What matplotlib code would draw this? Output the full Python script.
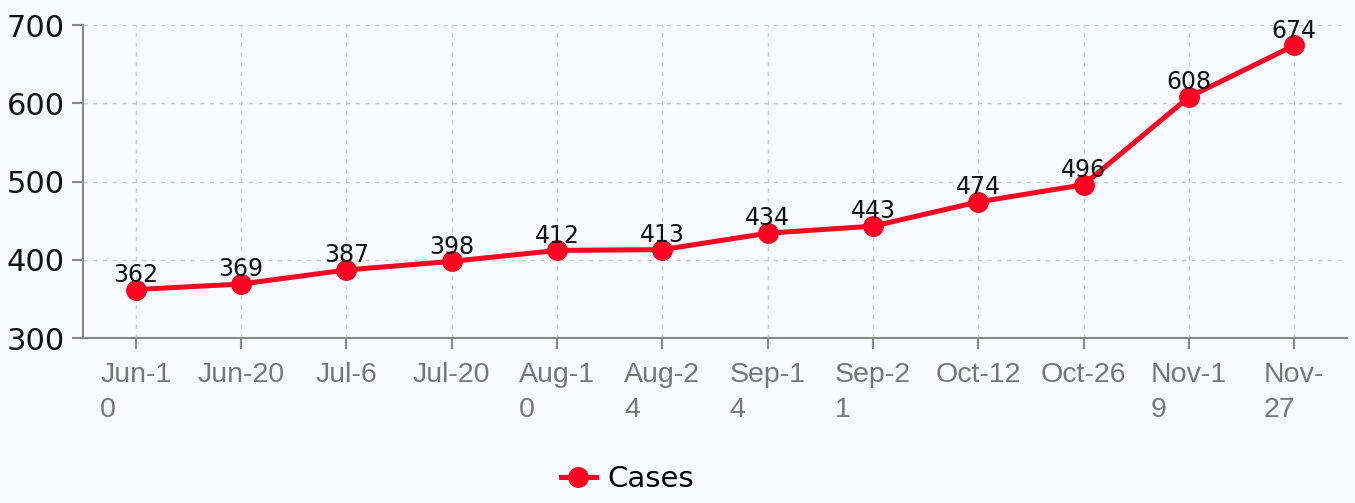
import matplotlib
matplotlib.use('Agg')
import matplotlib.pyplot as plt

dates = ['Jun-1\n0', 'Jun-20', 'Jul-6', 'Jul-20', 'Aug-1\n0', 'Aug-2\n4',
         'Sep-1\n4', 'Sep-2\n1', 'Oct-12', 'Oct-26', 'Nov-1\n9', 'Nov-\n27']
cases = [362, 369, 387, 398, 412, 413, 434, 443, 474, 496, 608, 674]

bg = '#f8faff'
red = '#ff0022'

fig = plt.figure(figsize=(13.55, 5.03), dpi=100, facecolor=bg)
ax = fig.add_axes([0.0613, 0.328, 0.9327, 0.622])
ax.set_facecolor(bg)

x = list(range(len(cases)))
ax.plot(x, cases, '-o', color=red, lw=3.6, ms=14, label='Cases', zorder=3)
for xi, v in zip(x, cases):
    ax.annotate(str(v), (xi, v), xytext=(0, 2), textcoords='offset points',
                ha='center', va='bottom', fontsize=17, color='#111111',
                family='DejaVu Sans', zorder=4)

ax.set_xlim(-0.5, len(cases) - 0.5)
ax.set_ylim(300, 700)
ax.set_yticks([300, 400, 500, 600, 700])
ax.set_xticks(x)
ax.set_xticklabels(dates, fontsize=20.5, color='#777777', family='Liberation Sans',
                   multialignment='left', linespacing=1.45)
for lab in ax.get_yticklabels():
    lab.set_fontsize(22)
    lab.set_family('DejaVu Sans')
    lab.set_color('#111111')

ax.grid(True, ls=(0, (3, 4)), color='#cccccc', lw=1)
ax.set_axisbelow(True)
for s in ['top', 'right']:
    ax.spines[s].set_visible(False)
for s in ['left', 'bottom']:
    ax.spines[s].set_color('#888888')
    ax.spines[s].set_linewidth(1.5)
ax.tick_params(axis='both', length=8, width=1.5, color='#888888')
ax.tick_params(axis='x', pad=9)
ax.tick_params(axis='y', pad=5)

fig.legend(loc='center', bbox_to_anchor=(0.463, 0.047), frameon=False,
           prop={'size': 21, 'family': 'DejaVu Sans'}, handlelength=1.2,
           handletextpad=0.4)

fig.savefig('out.png', dpi=100, facecolor=bg)
